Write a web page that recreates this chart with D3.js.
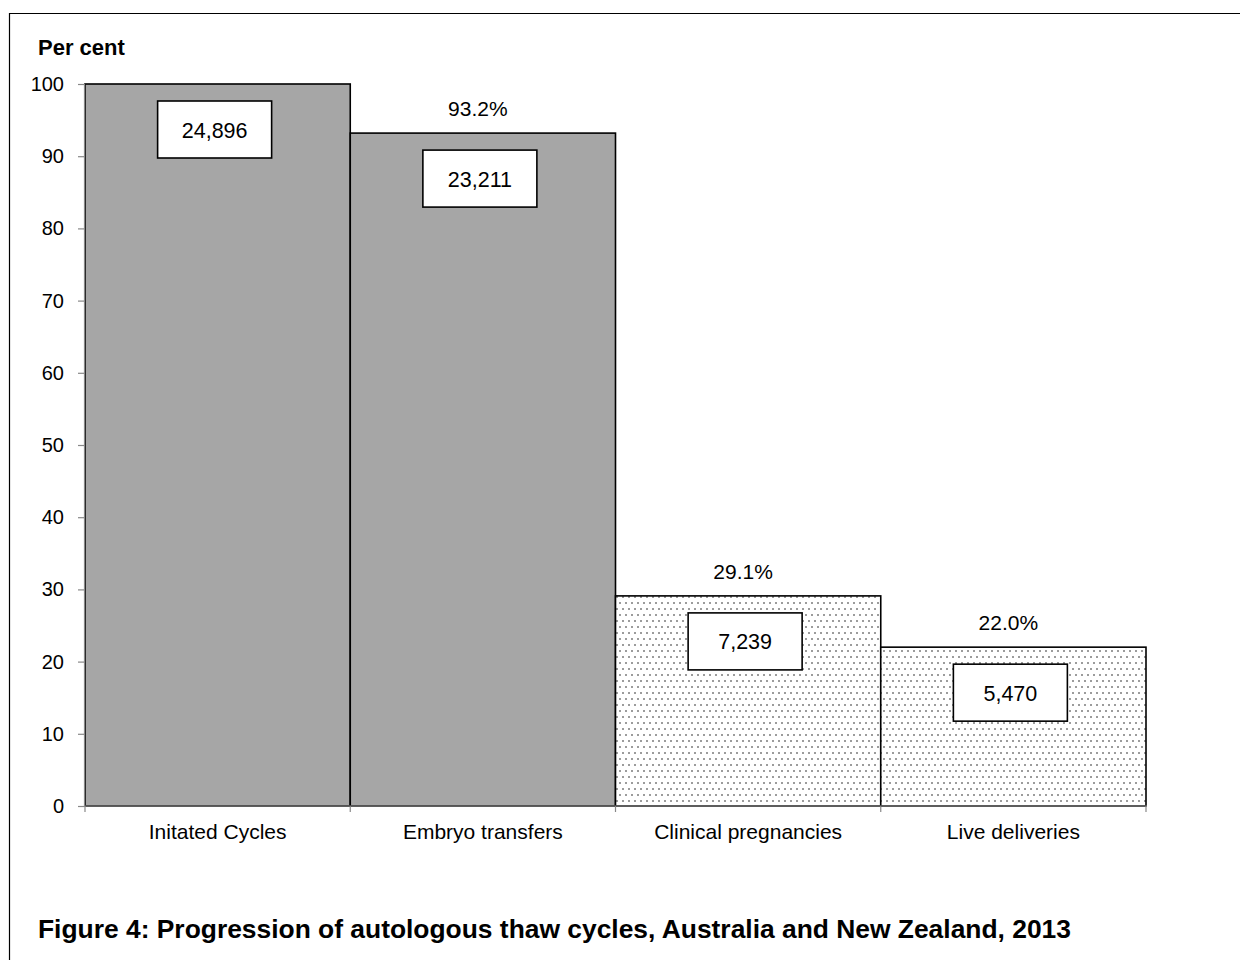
<!DOCTYPE html>
<html>
<head>
<meta charset="utf-8">
<script src="https://cdn.jsdelivr.net/npm/d3@7"></script>
<style>
  html, body { margin: 0; padding: 0; background: #fff; }
  svg { display: block; }
  text { font-family: "Liberation Sans", Arial, sans-serif; fill: #000; }
</style>
</head>
<body>
<svg id="chart" width="1240" height="960"></svg>
<script>
// Stages of the treatment progression
const categories = ["Initated Cycles", "Embryo transfers", "Clinical pregnancies", "Live deliveries"];
// Share of initiated cycles reaching each stage (per cent)
const percentValues = [100, 93.2, 29.1, 22.0];
// Number of cycles at each stage
const countValues = [24896, 23211, 7239, 5470];
// Percentage labels printed above the bars (none on the first bar)
const percentLabels = [null, "93.2%", "29.1%", "22.0%"];
// Y axis ticks
const yTicks = [0, 10, 20, 30, 40, 50, 60, 70, 80, 90, 100];

const svg = d3.select("#chart");
const W = 1240, H = 960;
const plot = { left: 85, right: 1146, top: 84, bottom: 806 };

// Dotted fill used for the outcome stages
const defs = svg.append("defs");
const pat = defs.append("pattern")
  .attr("id", "dots")
  .attr("patternUnits", "userSpaceOnUse")
  .attr("width", 6).attr("height", 12);
pat.append("rect").attr("width", 6).attr("height", 12).attr("fill", "#fff");
pat.append("rect").attr("x", 1).attr("y", 2).attr("width", 2).attr("height", 2).attr("fill", "#9c9c9c");
pat.append("rect").attr("x", 4).attr("y", 8).attr("width", 2).attr("height", 2).attr("fill", "#9c9c9c");

// Outer frame (left and top edges visible)
svg.append("path")
  .attr("d", `M9.5,${H + 5} V13.5 H${W + 5}`)
  .attr("fill", "none").attr("stroke", "#000").attr("stroke-width", 1.2);

const x = d3.scaleBand().domain(categories).range([plot.left, plot.right]).padding(0);
const y = d3.scaleLinear().domain([0, 100]).range([plot.bottom, plot.top]);

// Bars
svg.append("g").selectAll("rect")
  .data(categories)
  .join("rect")
  .attr("x", d => x(d))
  .attr("y", (d, i) => y(percentValues[i]))
  .attr("width", x.bandwidth())
  .attr("height", (d, i) => y(0) - y(percentValues[i]))
  .attr("fill", (d, i) => i < 2 ? "#a6a6a6" : "url(#dots)")
  .attr("stroke", "#000")
  .attr("stroke-width", 1.6);

// Y axis
const yAxis = svg.append("g")
  .attr("transform", `translate(${plot.left - 1},0)`)
  .call(d3.axisLeft(y).tickValues(yTicks).tickSize(6).tickPadding(14).tickFormat(d3.format("d")));
yAxis.select(".domain").attr("stroke", "#888").attr("stroke-width", 1.2);
yAxis.selectAll(".tick line").attr("stroke", "#888").attr("stroke-width", 1.2);
yAxis.selectAll(".tick text")
  .attr("font-family", "Liberation Sans, Arial, sans-serif")
  .attr("font-size", 20).attr("fill", "#000");

// X axis with ticks at category boundaries
const xAxisG = svg.append("g").attr("transform", `translate(0,${plot.bottom})`);
xAxisG.append("line")
  .attr("x1", plot.left - 1).attr("x2", plot.right + 1)
  .attr("stroke", "#888").attr("stroke-width", 1.2);
const boundaries = categories.map(c => x(c)).concat([x(categories[categories.length - 1]) + x.bandwidth()]);
xAxisG.selectAll("line.tk")
  .data(boundaries)
  .join("line")
  .attr("class", "tk")
  .attr("x1", d => d).attr("x2", d => d)
  .attr("y1", 0).attr("y2", 6)
  .attr("stroke", "#888").attr("stroke-width", 1.2);
xAxisG.selectAll("text")
  .data(categories)
  .join("text")
  .attr("x", d => x(d) + x.bandwidth() / 2)
  .attr("y", 33)
  .attr("text-anchor", "middle")
  .attr("font-size", 21)
  .text(d => d);

// Count boxes inside the bars
const boxW = 114, boxH = 57;
const boxes = svg.append("g").selectAll("g")
  .data(categories)
  .join("g")
  .attr("transform", (d, i) => `translate(${x(d) + x.bandwidth() / 2 - 3},${y(percentValues[i]) + 17})`);
boxes.append("rect")
  .attr("x", -boxW / 2).attr("y", 0)
  .attr("width", boxW).attr("height", boxH)
  .attr("fill", "#fff").attr("stroke", "#000").attr("stroke-width", 1.6);
boxes.append("text")
  .attr("x", 0).attr("y", boxH / 2 + 8)
  .attr("text-anchor", "middle")
  .attr("font-size", 21.5)
  .text((d, i) => d3.format(",")(countValues[i]));

// Percentage labels above bars
svg.append("g").selectAll("text")
  .data(categories.filter((d, i) => percentLabels[i] !== null))
  .join("text")
  .attr("x", d => x(d) + x.bandwidth() / 2 - 5)
  .attr("y", d => y(percentValues[categories.indexOf(d)]) - 17)
  .attr("text-anchor", "middle")
  .attr("font-size", 21)
  .text(d => percentLabels[categories.indexOf(d)]);

// Axis title
svg.append("text")
  .attr("x", 38).attr("y", 55)
  .attr("font-size", 22).attr("font-weight", "bold")
  .text("Per cent");

// Figure caption
svg.append("text")
  .attr("x", 38).attr("y", 938)
  .attr("font-size", 26.4).attr("font-weight", "bold")
  .text("Figure 4: Progression of autologous thaw cycles, Australia and New Zealand, 2013");
</script>
</body>
</html>
